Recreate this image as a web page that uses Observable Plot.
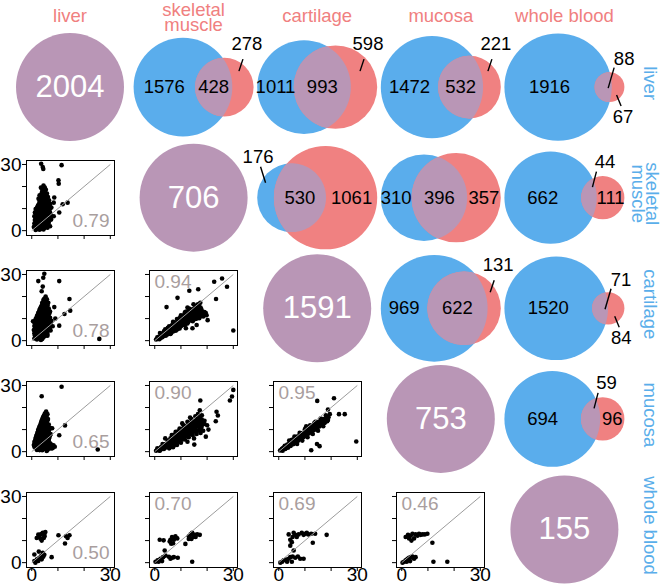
<!DOCTYPE html>
<html><head><meta charset="utf-8">
<script src="https://cdn.jsdelivr.net/npm/d3@7"></script>
<script src="https://cdn.jsdelivr.net/npm/@observablehq/plot@0.6"></script>
<style>
body{margin:0;background:#fff;}
#chart{position:relative;width:663px;height:586px;overflow:hidden;}
#chart svg{position:absolute;}
</style></head><body><div id="chart"></div>
<script>
// ---------- data ----------
const tissues = ["liver", "skeletal muscle", "cartilage", "mucosa", "whole blood"];
const tissueLabels = ["liver", "skeletal\nmuscle", "cartilage", "mucosa", "whole blood"];
const totals = [2004, 706, 1591, 753, 155];
// pairs [row tissue i, column tissue j], i < j
const pairs = [[0,1],[0,2],[0,3],[0,4],[1,2],[1,3],[1,4],[2,3],[2,4],[3,4]];
const overlapCounts = [428, 993, 532, 88, 530, 396, 44, 622, 71, 59];
const correlations = [0.79, 0.78, 0.65, 0.50, 0.94, 0.90, 0.70, 0.95, 0.69, 0.46];
// where each Venn number goes: [row only, both, column only]
const labelPlacement = [
  ["in","in","ne"], ["in","in","ne"], ["in","in","ne"], ["in","ne2","se"],
  ["nw","in","in"], ["in","in","in"], ["in","n","in"],
  ["in","in","ne"], ["in","ne2","se"], ["in","n","in"]
];
const axisTicks = [0, 10, 20, 30];

const liverVsMuscle = [[3.6,30.3],[4.2,28.8],[4.4,28],[11.4,29.7],[10.2,22.8],[10.3,21.3],[8.6,15],[8.4,12.7],[11.8,12],[13.7,12.7],[10.5,8.2],
 [4.5,20.5],[5,19.5],[4.3,18.8],[5.4,18.5],[4.8,17.5],[3.8,17],[5.8,16.8],[3,16],[4,15.8],[5,15.5],[6.2,15.2],[2.6,14.5],[3.6,14.3],[4.6,14],[5.6,14],[6.6,13.8],
 [3,12.8],[4,12.6],[5,12.5],[6,12.4],[7,12.2],[2.4,11.5],[3.5,11.2],[4.5,11],[5.5,11],[6.5,10.8],[7.5,10.5],[1.5,9.8],[2.5,9.6],[3.5,9.5],[4.5,9.5],[5.5,9.3],[6.5,9.2],
 [1.2,8.2],[2.2,8],[3.2,8],[4.2,7.9],[5.2,7.8],[6.2,7.6],[7.2,7.3],[1,6.5],[2,6.4],[3,6.3],[4,6.2],[5,6.1],[6,6],[7.2,5.8],[8.4,6.5],
 [1.2,4.8],[2.2,4.7],[3.2,4.6],[4.2,4.5],[5.2,4.4],[6.3,4.4],[7.4,5],[1,3.2],[2,3.1],[3,3],[4,3],[5,2.9],[6,2.8],[0.8,1.6],[1.8,1.5],[2.8,1.4],[3.8,1.3],[4.8,1.2],[6,1.3],[1.5,0.3],[3,0.4],[4.5,0.5],[7,2],
 [3.5,19.5],[4,18],[5,18.2],[4.5,16.5],[5.5,16],[3.5,15.3],[4.5,15],[5.8,15],[3,13.5],[4,13.3],[5,13.2],[6,13],[2.8,12],[3.8,11.9],[4.8,11.8],[5.8,11.7],[6.8,11.5],
 [2,10.5],[3,10.3],[4,10.2],[5,10.2],[6,10],[7,9.9],[2,9],[3,8.8],[4,8.7],[5,8.6],[6,8.4],[7,8.2],[1.6,7.2],[2.6,7.1],[3.6,7],[4.6,7],[5.6,6.9],[6.6,6.8],
 [1.6,5.6],[2.6,5.5],[3.6,5.4],[4.6,5.3],[5.6,5.2],[6.6,5.1],[1.5,4],[2.5,3.9],[3.5,3.8],[4.5,3.7],[5.5,3.6],[6.5,3.6],[1.3,2.3],[2.3,2.2],[3.3,2.2],[4.3,2.1],[5.3,2],[2.3,0.8],[3.8,0.9],[5.5,1.8]];
const liverVsCartilage = [[4.8,30.3],[4.4,28.5],[2.5,27],[4.2,24.5],[3.8,22.4],[10.5,27],[14.4,18.9],[14.7,13.6],[12.5,12.1],[10.5,6.8],[25.8,0.8],[8.6,15.2],[9,10],
 [5.3,20],[4.8,19],[5.8,18.8],[4.5,17.8],[5.5,17.5],[6.3,17.2],[4,16.5],[5,16.3],[6,16],[3.5,15.2],[4.5,15],[5.5,14.8],[6.5,14.6],[3,14],[4,13.8],[5,13.6],[6,13.4],[7,13.2],
 [2.5,12.6],[3.5,12.4],[4.5,12.3],[5.5,12.2],[6.5,12],[2,11.2],[3,11],[4,10.9],[5,10.8],[6,10.6],[7,10.4],[1.5,9.8],[2.5,9.6],[3.5,9.5],[4.5,9.4],[5.5,9.3],[6.5,9.1],[7.5,9],
 [1,8.2],[2,8.1],[3,8],[4,7.9],[5,7.8],[6,7.7],[7,7.5],[1,6.6],[2,6.5],[3,6.4],[4,6.3],[5,6.2],[6,6.1],[7,6],[8,6.5],[1.2,5],[2.2,4.9],[3.2,4.8],[4.2,4.7],[5.2,4.6],[6.2,4.5],[7.2,4.6],
 [1,3.4],[2,3.3],[3,3.2],[4,3.1],[5,3],[6,3],[1.5,1.8],[2.5,1.7],[3.5,1.6],[4.5,1.5],[2,0.5],[3.5,0.3],[6,2.2],[0.5,8.8],[0.8,4.8],
 [4.5,18.5],[5.3,18.2],[4,17.2],[5,17],[6,16.8],[3.8,15.8],[4.8,15.7],[5.8,15.5],[3.2,14.6],[4.2,14.5],[5.2,14.3],[6.2,14.1],[2.8,13.2],[3.8,13.1],[4.8,13],[5.8,12.9],[6.8,12.7],
 [2.3,11.8],[3.3,11.7],[4.3,11.6],[5.3,11.5],[6.3,11.4],[1.8,10.4],[2.8,10.3],[3.8,10.2],[4.8,10.1],[5.8,10],[6.8,9.8],[1.3,9],[2.3,8.9],[3.3,8.8],[4.3,8.7],[5.3,8.6],[6.3,8.5],[7.3,8.3],
 [1.5,7.3],[2.5,7.2],[3.5,7.1],[4.5,7],[5.5,6.9],[6.5,6.8],[1.6,5.7],[2.6,5.6],[3.6,5.5],[4.6,5.4],[5.6,5.3],[6.6,5.3],[1.5,4.1],[2.5,4],[3.5,3.9],[4.5,3.8],[5.5,3.7],
 [1.2,2.5],[2.2,2.4],[3.2,2.4],[4.2,2.3],[5.2,2.2],[1,1],[3,1],[4,0.8]];
const liverVsMucosa = [[11.4,29.4],[3.8,25.1],[7.8,10.6],[10.5,7.4],[12.7,11.9],[25.2,1],[5.7,0.3],
 [5.5,18.2],[5,17.3],[6,17],[4.6,16.3],[5.6,16],[4.2,15.2],[5.2,15],[6.2,14.8],[3.8,14],[4.8,13.8],[5.8,13.6],[3.5,12.7],[4.5,12.5],[5.5,12.4],[6.5,12.3],
 [3,11.4],[4,11.2],[5,11.1],[6,11],[7,10.8],[2.5,10],[3.5,9.9],[4.5,9.8],[5.5,9.7],[6.5,9.5],[2.2,8.6],[3.2,8.5],[4.2,8.4],[5.2,8.3],[6.2,8.2],[7.2,8],
 [1.8,7.2],[2.8,7.1],[3.8,7],[4.8,6.9],[5.8,6.8],[6.8,6.7],[1.5,5.8],[2.5,5.7],[3.5,5.6],[4.5,5.5],[5.5,5.4],[6.5,5.3],[1,4.4],[2,4.3],[3,4.2],[4,4.1],[5,4],[6,3.9],[7,3.8],
 [0.8,3],[1.8,2.9],[2.8,2.8],[3.8,2.7],[4.8,2.6],[5.8,2.5],[6.8,2.4],[7.8,2.6],[8.8,2.2],[1.5,1.5],[2.5,1.4],[3.5,1.3],[4.5,1.2],[5.5,1.2],[6.5,1.3],[7.5,1.4],
 [5,16.6],[4.4,15.7],[5.4,15.5],[4,14.6],[5,14.4],[6,14.2],[3.6,13.3],[4.6,13.1],[5.6,13],[3.2,12],[4.2,11.9],[5.2,11.8],[6.2,11.6],[2.8,10.7],[3.8,10.6],[4.8,10.5],[5.8,10.3],[6.8,10.2],
 [2.4,9.3],[3.4,9.2],[4.4,9.1],[5.4,9],[6.4,8.9],[2,7.9],[3,7.8],[4,7.7],[5,7.6],[6,7.5],[7,7.4],[1.6,6.5],[2.6,6.4],[3.6,6.3],[4.6,6.2],[5.6,6.1],[6.6,6],
 [1.3,5.1],[2.3,5],[3.3,4.9],[4.3,4.8],[5.3,4.7],[6.3,4.6],[1.3,3.6],[2.3,3.5],[3.3,3.4],[4.3,3.3],[5.3,3.2],[6.3,3.1],[7.5,3.2],[8.3,2.9],
 [1,2.2],[2,2.1],[3,2],[4,1.9],[5,1.9],[6,1.8],[7,1.9],[8,1.6],[2,0.8],[3,0.7],[4,0.6],[6,0.7]];
const liverVsBlood = [[1.9,11.2],[2.5,12.7],[3.6,13],[4.2,13.5],[4.8,12.7],[4.6,11.2],[3.3,10.9],[3.8,10],[5.2,13.9],[4.9,12],[2.9,11.8],
 [10.2,12.4],[13.1,12],[14.4,12.4],[13.7,11.2],[12.7,8.7],[7.6,2.5],
 [1,0.75],[2,1.5],[2.9,2.2],[3.6,3],[4.4,2.7],[4.8,3.6],[2.5,0.75],[3.8,1.5],[1,3.7],[2.7,5],[1.4,0],[4.2,4.5]];
const muscleVsCartilage = [[22.7,26.7],[25.7,28.2],[27.6,24.4],[23.4,18.9],[30,4.6],[13.2,22.6],[16.6,23.3],[8.7,19.4],[4.5,15.2],[19.8,11.5],[20.2,9.3],[16,7.1],[14.4,5.6],[11.9,5.6],
 [0.5,0.5],[1.2,0.8],[1.5,1.8],[2.2,1.3],[2.5,2.4],[3.2,2],[3,3.2],[3.8,3],[4.2,2.2],[4.5,4],[5,3.2],[5.2,4.8],[5.8,4],[6,5.6],[6.5,4.6],[6.8,6.2],[7.3,5.4],[7.5,7],[8,6],
 [8.3,7.8],[8.8,6.7],[9,8.6],[9.5,7.5],[9.8,9.3],[10.3,8.2],[10.5,10],[11,9],[11.2,10.8],[11.8,9.8],[12,11.6],[12.5,10.5],[12.8,12.3],[13.3,11.2],[13.5,13],[14,12],
 [14.3,13.7],[14.8,12.8],[15,14.5],[15.6,13.4],[16,15.2],[16.5,14],[16.8,16],[17.5,15],[17.4,17.2],[16,11.5],[17,12.5],[18,12],[18.5,11],[16.8,10.5],[15,10.5],[14,9.8],
 [12,8],[10,6.5],[8.5,5],[13,14.5],[11.5,12.8],[10,11.5],[8.5,9.8],[7,8.5],[5.5,6.5],[4,5.2],[2,3.5],[6,3],[9,5.5],[12.5,7.8],[19,13],[14.8,16.5],[12.5,15],
 [1,1.5],[1.8,0.6],[2.8,1.5],[3.5,2.6],[4,4.2],[4.8,2.8],[5.5,3.6],[5.8,5],[6.3,3.5],[7,5],[7.8,6.6],[8,4.5],[8.5,7],[9.2,6.2],[9.6,8.8],[10,7.4],[10.8,8.2],[11,10.4],[11.5,8.8],
 [12.2,9.2],[12.5,11.6],[13,10],[13.8,11],[13.8,13.5],[14.5,11.2],[15,13.5],[15.3,11.8],[15.8,14.6],[16.2,12.8],[17,13.5],[17.8,14.2],[18.2,13],[17.5,11.2],[16.5,10.8],[15.5,9.8],
 [14.5,8.8],[13.5,9.2],[18.8,12],[19.5,12.5],[11,11.5],[9.5,10.2],[8,8.2],[6.5,7],[5,5.8],[3.5,4.2],[12,13.2],[13.5,14.3],[15.5,15.8],[16.5,16.5],
 [2,1.2],[3,1.8],[4,2.6],[5,3.8],[6,4.2],[7,4.2],[7.5,6],[8.5,6],[9,7],[9.5,5.5],[10.5,7],[11,8],[11.5,7],[12,9],[12.8,8.5],[13.5,10.5],[14,10.8],[14.8,10],[15.5,12.5],
 [16,10],[16.5,11.8],[17,10.2],[17.5,12],[18,13.2],[13,12.8],[14.5,14],[11.8,11.2],[10.8,9.2],[9.8,8],[8.8,7.6],[7.8,7.2],[6.8,5.2],[5.8,3.2],[4.8,4.4],[3.8,3.8],
 [16.2,13.5],[15.3,14.3],[12.3,12.5],[19,11.5],[18.5,12.5]];
const muscleVsMucosa = [[30,28],[29.5,25],[28.7,23.2],[17.4,23.2],[23.6,18.1],[24.1,16.4],[23.3,13.8],[20.5,10],[19.5,6.8],[15.1,3.2],[17.2,18.8],
 [0.5,0.4],[1.3,0.9],[2,0.5],[2.2,1.8],[3,1.2],[3.3,2.6],[4,1.8],[4.2,3.5],[5,2.5],[5.2,4.4],[6,3.2],[6.3,5.2],[7,4],[7.2,6.2],[8,4.8],[8.2,7],[9,5.8],[9.2,8],[10,6.5],
 [10.3,9],[11,7.3],[11.2,10],[12,8.2],[12.2,11],[13,9],[13.2,12],[14,10],[14.2,12.8],[15,10.8],[15.2,13.8],[16,11.5],[16.2,14.5],[17,12.3],[17.3,15.5],[17.8,11],[18.5,9.5],
 [17.5,8.5],[16,8],[14.5,7.5],[13,6.5],[11.5,5.5],[10,4],[8.5,3],[7,2],[5.5,1.5],[12.5,13.5],[11,12],[9.5,10.5],[8,9],[6.5,7.5],[15.5,16],[14,14.8],[16.5,17],[18,16.5],
 [19,14],[20,12],[18.5,13],[12.5,4.5],[15,6],[4,6],[10.5,12.8],[13.5,15.5],
 [1,1.5],[1.8,0.4],[2.6,1.4],[3.5,1.2],[3.8,2.6],[4.6,2.2],[4.8,3.8],[5.6,3],[5.8,4.6],[6.6,3.8],[6.8,5.6],[7.6,4.4],[7.8,6.6],[8.6,5.2],[8.8,7.4],[9.6,6],[9.8,8.6],[10.6,7],
 [10.8,9.6],[11.6,7.8],[11.8,10.6],[12.6,8.6],[12.8,11.4],[13.6,9.4],[13.8,12.2],[14.6,10.4],[14.8,13.2],[15.6,11],[15.8,14],[16.6,11.8],[16.8,15],[17.5,13],[17.5,10],[18,12],
 [16.5,9.5],[15,9],[13.5,8],[12,7],[10.5,5.5],[9,4.5],[7.5,3],[6,2],[18,14.5],[19,12.5],[16,13],[14,11.5],[12,9.5],[10,8],[8,6],[6,4.5],
 [2.5,2.2],[3.5,3],[4.5,2.8],[5.5,3.8],[6.5,4.4],[7.5,5.2],[8.5,6.2],[9.5,7],[10.5,7.8],[11.5,8.8],[12.5,9.6],[13.5,10.6],[14.5,11.6],[15.5,12.4],[16.5,13.2],[17,14],
 [9.5,5],[11,6.5],[12.5,7.5],[14,8.8],[15.5,10],[17,11],[8,5.5],[10.5,10.2],[12,10.8],[13.2,11],[14.8,12],[16,12.2],[9,9.2],[7.5,7.8],[6,6],[5,5],[3,3.5],[11.5,11.5],[13,13],[17.5,12]];
const cartilageVsMucosa = [[14.7,23],[21.1,24.2],[23,17],[25.2,17],[29.6,4.6],[14.6,3.5],[15.6,2.5],[12.4,0.6],[18.8,19.1],
 [0.5,0.5],[1.2,1.2],[1.5,0.4],[2,2],[2.5,1.2],[3,2.8],[3.5,1.8],[4,3.6],[4.5,2.6],[5,4.4],[5.5,3.4],[6,5.2],[6.5,4.2],[7,6],[7.5,5],[8,6.8],[8.5,5.8],[9,7.6],[9.5,6.6],
 [10,8.4],[10.5,7.4],[11,9.2],[11.5,8.2],[12,10],[12.5,9],[13,10.8],[13.5,9.8],[14,11.6],[14.5,10.6],[15,12.4],[15.5,11.4],[16,13.2],[16.5,12.2],[17,14],[17.5,13],[18,14.8],
 [18.5,13.8],[19,15.6],[8,8.5],[10,10.2],[12,12],[14,13.5],[16,15],[6,6.8],[4,5],[11,6.5],[13,8],[15,9.5],[17,11.5],[9,5],[7,3.5],[10.5,11.5],[13.5,12.8],[19.5,17],[18,16.5],
 [1,0.8],[1.8,1.5],[2.3,2.6],[2.8,1.8],[3.3,3.2],[3.8,2.4],[4.3,4],[4.8,3.2],[5.3,4.8],[5.8,4],[6.3,5.6],[6.8,4.8],[7.3,6.4],[7.8,5.6],[8.3,7.2],[8.8,6.4],[9.3,8],[9.8,7.2],
 [10.3,8.8],[10.8,8],[11.3,9.6],[11.8,8.8],[12.3,10.4],[12.8,9.6],[13.3,11.2],[13.8,10.4],[14.3,12],[14.8,11.2],[15.3,12.8],[15.8,12],[16.3,13.6],[16.8,12.8],[17.3,14.4],
 [17.8,13.6],[18.3,15.2],[18.8,14.4],[12,11],[10,9.4],[14,12.7],[16,14.2],[8,7.6],[6,6],
 [1.5,1.5],[2.5,2],[3.5,2.8],[4.5,3.6],[5.5,4.6],[6.5,5.2],[7.5,6],[8.5,7],[9.5,7.6],[10.5,8.4],[11.5,9.4],[12.5,10],[13.5,11],[14.5,11.8],[15.5,12.6],[16.5,13.2],[17.5,14],
 [18.5,14.8],[9,8.4],[11,10],[13,11.6],[15,13.4],[17,14.8],[7,6.8],[5,5.4]];
const muscleVsBlood = [[1.9,10.4],[3.4,10.1],[5.7,9.6],[6,10.4],[6.6,11.6],[7.3,10.4],[7.9,12],[8.6,11],[7,8.8],[6.3,8.6],
 [11.7,8.5],[13,12],[13.7,12.8],[14.3,13.5],[15.2,12.6],[16.2,12.8],[17.2,12.6],[14.7,11.6],[14,10.7],[15.6,11.6],[13,10.7],
 [0.3,0.4],[1.1,1.1],[2.2,1.8],[3.2,2.5],[4.1,3.2],[1.5,0.4],[2.8,0.7],[3.8,5.5],[5.4,2.7],[6.6,2.2],[6,1.8],[7.3,2.5],[8.8,2.2],[14.3,0.4]];
const cartilageVsBlood = [[4.4,10.4],[5,9.3],[5.7,13.5],[6.3,12.6],[6.9,11.6],[7.6,12.8],[8.8,13.5],[9.5,12.6],[10.1,13.1],[10.7,13.5],[11.3,12.8],[12.4,13.1],[13.9,13.1],
 [13,9],[18.3,12.6],[4.4,7.7],[3.8,12.8],[5.3,11.6],
 [0.6,0],[1.3,0.4],[1.9,1.1],[2.8,1.4],[3.8,1.8],[4.4,2.5],[5.3,2.8],[6.3,2.2],[7.3,2.8],[8.2,1.8],[9.5,1.8],[5,0.4],[3.2,0.4],[5.7,5.5]];
const mucosaVsBlood = [[1.5,11.6],[2.4,12.6],[3.4,12.2],[4.1,13.1],[4.7,11],[5.3,12.8],[6,12.2],[6.6,13.1],[7.2,12.6],[7.9,12.8],[8.8,12.8],[9.8,13.1],[3.7,10],[2.8,11],[11.7,9],
 [0.3,0],[0.9,0.4],[1.5,1.1],[2.2,1.7],[2.8,2.2],[3.4,2.5],[4.1,2.8],[4.7,1.8],[5.3,2.5],[1.9,0.4],[3.2,0.7],[12.1,0.4],[17.4,0.4]];
const scatterPoints = [liverVsMuscle, liverVsCartilage, liverVsMucosa, liverVsBlood,
  muscleVsCartilage, muscleVsMucosa, muscleVsBlood, cartilageVsMucosa, cartilageVsBlood, mucosaVsBlood];

// ---------- styles & layout ----------
const FONT = '"Liberation Sans", Arial, Helvetica, sans-serif';
const BLUE = "#5AADEC", RED = "#F08181", PURPLE = "#B996B6";
const HEAD = "#F08080", ROWLAB = "#5AAEEA", CORR = "#A99E9E";
const colX = i => 69.5 + 123.6 * i;
const rowY = i => 86.6 + 110.6 * i;
const VENN_WIDTH = 120, DIAG_R = 54, NUM_FS = 18.5, BIG_FS = 31, HEAD_FS = 18.5, MID = 0.33;
const leaderStyles = {
  ne:  {s: [-4, -16], e: [0, -28], t: [4, -37]},
  ne2: {s: [5, 1], e: [11, -19.5], t: [21, -22]},
  se:  {s: [-1.5, 8], e: [3, 19], t: [5, 36]},
  n:   {s: [3.5, -10.5], e: [7.5, -26], t: [16, -29.5]},
  nw:  {s: [0, -15], e: [-5, -31], t: [-7.5, -35]}
};

// ---------- Venn geometry ----------
function lensArea(r1, r2, d) {
  if (d >= r1 + r2) return 0;
  if (d <= Math.abs(r1 - r2)) return Math.PI * Math.min(r1, r2) ** 2;
  const a1 = r1 * r1 * Math.acos((d * d + r1 * r1 - r2 * r2) / (2 * d * r1));
  const a2 = r2 * r2 * Math.acos((d * d + r2 * r2 - r1 * r1) / (2 * d * r2));
  const k = 0.5 * Math.sqrt((-d + r1 + r2) * (d + r1 - r2) * (d - r1 + r2) * (d + r1 + r2));
  return a1 + a2 - k;
}
function solveD(r1, r2, area) {
  let lo = Math.abs(r1 - r2), hi = r1 + r2;
  for (let k = 0; k < 60; k++) { const m = (lo + hi) / 2; if (lensArea(r1, r2, m) > area) lo = m; else hi = m; }
  return (lo + hi) / 2;
}
const venns = pairs.map(([i, j], k) => {
  const nA = totals[i], nB = totals[j], nAB = overlapCounts[k];
  const ua = Math.sqrt(nA), ub = Math.sqrt(nB);
  const ud = solveD(ua, ub, Math.PI * nAB);
  const left = Math.min(-ua, ud - ub), right = Math.max(ua, ud + ub);
  const s = VENN_WIDTH / (right - left), mid = (left + right) / 2;
  const cx = colX(j), cy = rowY(i);
  return {k, ax: cx - mid * s, bx: cx + (ud - mid) * s, cy, rA: ua * s, rB: ub * s,
          counts: [nA - nAB, nAB, nB - nAB], place: labelPlacement[k]};
});
const lensPts = venns.flatMap(v => {
  const d = v.bx - v.ax;
  const xi = (d * d + v.rA * v.rA - v.rB * v.rB) / (2 * d);
  const hi = Math.sqrt(Math.max(0, v.rA * v.rA - xi * xi));
  const pB = Math.atan2(hi, d - xi), pA = Math.atan2(hi, xi);
  const out = [], N = 120;
  for (let n = 0; n <= N; n++) { const t = -pB + 2 * pB * n / N; out.push({k: v.k, x: v.bx - v.rB * Math.cos(t), y: v.cy + v.rB * Math.sin(t)}); }
  for (let n = 0; n <= N; n++) { const t = pA - 2 * pA * n / N; out.push({k: v.k, x: v.ax + v.rA * Math.cos(t), y: v.cy + v.rA * Math.sin(t)}); }
  return out;
});
const vennLabels = venns.flatMap(v => {
  const xs = [(v.ax - v.rA + v.bx - v.rB) / 2, (v.bx - v.rB + v.ax + v.rA) / 2, (v.ax + v.rA + v.bx + v.rB) / 2];
  return v.counts.map((c, r) => ({count: c, x: xs[r], y: v.cy, place: v.place[r]}));
});
const inLabels = vennLabels.filter(d => d.place === "in");
const outLabels = vennLabels.filter(d => d.place !== "in").map(d => {
  const st = leaderStyles[d.place];
  return {count: d.count, x1: d.x + st.s[0], y1: d.y + st.s[1], x2: d.x + st.e[0], y2: d.y + st.e[1],
          tx: d.x + st.t[0], ty: d.y + st.t[1] - MID * NUM_FS};
});
// header / row label lines
const labelLines = tissueLabels.flatMap((lab, i) => {
  const lines = lab.split("\n");
  return lines.map((t, n) => ({i, t, n, m: lines.length}));
});

const chart = document.getElementById("chart");
const main = Plot.plot({
  width: 663, height: 586, margin: 0,
  x: {domain: [0, 663], range: [0, 663], axis: null},
  y: {domain: [0, 586], range: [0, 586], axis: null},
  r: {type: "identity"},
  style: {background: "transparent", fontFamily: FONT, left: "0px", top: "0px"},
  marks: [
    Plot.dot(tissues, {x: (d, i) => colX(i), y: (d, i) => rowY(i), r: DIAG_R, fill: PURPLE}),
    Plot.text(totals, {x: (d, i) => colX(i), y: (d, i) => rowY(i), text: d => String(d), fill: "white", fontSize: BIG_FS}),
    Plot.dot(venns, {x: "ax", y: "cy", r: "rA", fill: BLUE}),
    Plot.dot(venns, {x: "bx", y: "cy", r: "rB", fill: RED}),
    Plot.line(lensPts, {x: "x", y: "y", z: "k", fill: PURPLE, stroke: "none"}),
    Plot.text(inLabels, {x: "x", y: "y", text: d => String(d.count), fill: "black", fontSize: NUM_FS}),
    Plot.link(outLabels, {x1: "x1", y1: "y1", x2: "x2", y2: "y2", stroke: "black", strokeWidth: 1.4}),
    Plot.text(outLabels, {x: "tx", y: "ty", text: d => String(d.count), fill: "black", fontSize: NUM_FS}),
    Plot.text(labelLines, {x: d => colX(d.i), y: d => (d.m === 1 ? 22 : 15.8 + 15 * d.n) - MID * HEAD_FS,
      text: "t", fill: HEAD, fontSize: HEAD_FS}),
    Plot.text(labelLines, {x: d => (d.m === 1 ? 643 : 645 - 13.5 * d.n) + MID * HEAD_FS, y: d => rowY(d.i) - 4,
      text: "t", rotate: 90, fill: ROWLAB, fontSize: HEAD_FS})
  ]
});
chart.appendChild(main);

// ---------- scatter panels ----------
const FW = 88, FH = 75, ML = 30, MR = 8, MT = 6, MB = 28;
pairs.forEach(([i, j], k) => {
  const showY = i === 0, showX = j === tissues.length - 1;
  const lo = axisTicks[0], hi = axisTicks[axisTicks.length - 1];
  const fmt = show => d => (show && (d === lo || d === hi)) ? String(d) : "";
  const corrText = correlations[k].toFixed(2);
  const p = Plot.plot({
    width: ML + FW + MR, height: MT + FH + MB,
    marginLeft: ML, marginRight: MR, marginTop: MT, marginBottom: MB,
    x: {domain: [-2, 31.6]}, y: {domain: [-2.2, 31.8]},
    style: {background: "transparent", overflow: "visible", fontFamily: FONT,
            left: (colX(i) - FW / 2 - ML) + "px", top: (rowY(j) - FH / 2 - MT) + "px"},
    marks: [
      Plot.dot(scatterPoints[k], {x: d => d[0], y: d => d[1], r: 2.3, fill: "black"}),
      Plot.link([corrText], {x1: lo, y1: lo, x2: hi, y2: hi, stroke: "#9c9c9c", strokeWidth: 1}),
      Plot.frame({stroke: "black", strokeWidth: 1}),
      Plot.axisY({ticks: axisTicks, tickSize: 4, tickPadding: 1, fontSize: 19, label: null, tickFormat: fmt(showY), color: "black"}),
      Plot.axisX({ticks: axisTicks, tickSize: 4, tickPadding: -4, fontSize: 19, label: null, tickFormat: fmt(showX), color: "black"}),
      showY
        ? Plot.text([corrText], {frameAnchor: "bottom-right", text: d => d, dx: -5, dy: -9, fontSize: 19, fill: CORR})
        : Plot.text([corrText], {frameAnchor: "top-left", text: d => d, dx: 5, dy: 4, fontSize: 19, fill: CORR})
    ]
  });
  chart.appendChild(p);
});
</script></body></html>
